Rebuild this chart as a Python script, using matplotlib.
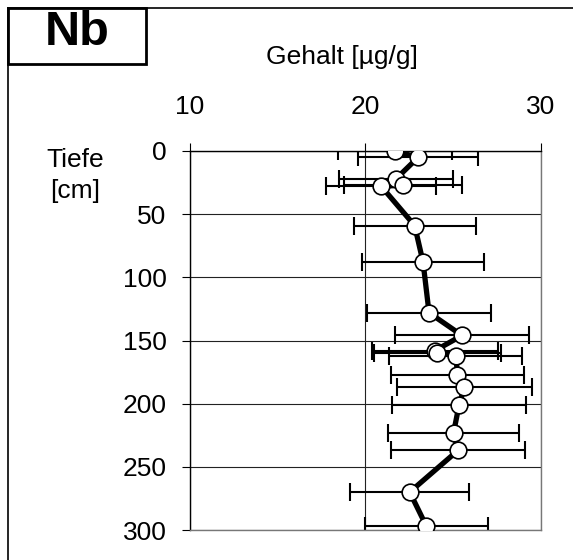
import matplotlib
matplotlib.use("Agg")
import matplotlib.pyplot as plt
from matplotlib.lines import Line2D
from matplotlib.patches import Rectangle

plt.rcParams['font.family'] = ['Liberation Sans', 'DejaVu Sans']

# Nb content per sample depth
depth = [0, 5, 22, 27, 28, 59, 88, 128, 146, 158, 160, 162, 177, 187, 201, 223, 237, 270, 297]
gehalt = [21.66, 23.0, 21.74, 22.15, 20.9, 22.8, 23.28, 23.62, 25.5, 23.96, 24.1, 25.15,
          25.24, 25.63, 25.33, 25.02, 25.27, 22.52, 23.47]
fehler = [3.25, 3.43, 3.25, 3.37, 3.13, 3.47, 3.5, 3.55, 3.82, 3.6, 3.62, 3.79,
          3.79, 3.85, 3.82, 3.75, 3.8, 3.38, 3.52]

x_ticks = [10, 20, 30]
y_ticks = [0, 50, 100, 150, 200, 250, 300]

W, H = 573, 560
fig = plt.figure(figsize=(W / 100, H / 100), dpi=100)

def fx(px):
    return px / W

def fy(py):
    return 1 - py / H

ax = fig.add_axes([fx(190), fy(530), fx(541) - fx(190), fy(151) - fy(530)])

# error bars, thick line, white markers
ax.errorbar(gehalt, depth, xerr=fehler, fmt='none', ecolor='black',
            elinewidth=1.5, capsize=6.5, capthick=1.5, zorder=2)
ax.plot(gehalt, depth, color='black', lw=3.8, zorder=3, solid_capstyle='round')
ax.plot(gehalt, depth, 'o', ms=12, mfc='white', mec='black', mew=1.2, zorder=4,
        linestyle='none')

ax.set_xlim(10, 30)
ax.set_ylim(300, 0)
ax.set_xticks(x_ticks)
ax.set_yticks(y_ticks)
ax.xaxis.tick_top()
ax.grid(True, color='#222222', lw=0.8)
ax.set_axisbelow(True)
ax.tick_params(axis='x', direction='out', length=5.8, width=0.8, pad=17, labelsize=19)
ax.tick_params(axis='y', direction='out', length=5.8, width=0.8, pad=11, labelsize=19)
for s in ['left', 'top']:
    ax.spines[s].set_color('black')
    ax.spines[s].set_linewidth(1.0)
for s in ['right', 'bottom']:
    ax.spines[s].set_color('#777777')
    ax.spines[s].set_linewidth(1.0)

# outer frame (left and top edges only visible)
fig.add_artist(Line2D([fx(7.5), fx(7.5)], [fy(8.3), 0], color='black', lw=1.2))
fig.add_artist(Line2D([fx(7.5), 1], [fy(8.3), fy(8.3)], color='black', lw=1.2))

# element label box
fig.add_artist(Rectangle((fx(7.5), fy(64.3)), fx(145.7) - fx(7.5), fy(8.3) - fy(64.3),
                         facecolor='white', edgecolor='black', lw=2.0))
fig.text(fx(77.5), fy(45), 'Nb', fontsize=35, fontweight='bold', ha='center', va='baseline')

fig.text(fx(341.7), fy(64.3), 'Gehalt [µg/g]', fontsize=19, ha='center', va='baseline')
fig.text(fx(75), fy(166.7), 'Tiefe', fontsize=19, ha='center', va='baseline')
fig.text(fx(75), fy(198), '[cm]', fontsize=19, ha='center', va='baseline')

fig.savefig('out.png', dpi=100)
